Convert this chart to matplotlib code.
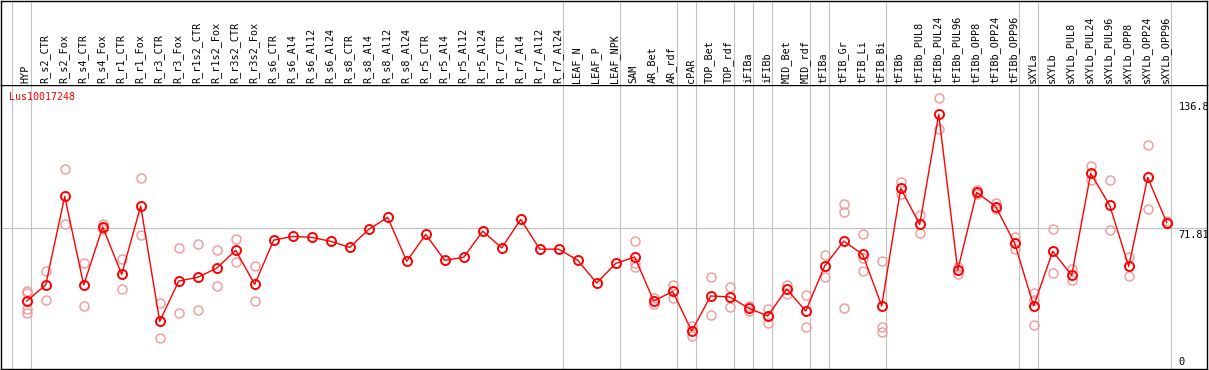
import matplotlib
matplotlib.use('Agg')
import matplotlib.pyplot as plt
import matplotlib.transforms as mtransforms

title = 'Lus10017248'

categories = [
    'HYP', 'R_s2_CTR', 'R_s2_Fox', 'R_s4_CTR', 'R_s4_Fox', 'R_r1_CTR', 'R_r1_Fox',
    'R_r3_CTR', 'R_r3_Fox', 'R_r1s2_CTR', 'R_r1s2_Fox', 'R_r3s2_CTR', 'R_r3s2_Fox',
    'R_s6_CTR', 'R_s6_Al4', 'R_s6_Al12', 'R_s6_Al24', 'R_s8_CTR', 'R_s8_Al4',
    'R_s8_Al12', 'R_s8_Al24', 'R_r5_CTR', 'R_r5_Al4', 'R_r5_Al12', 'R_r5_Al24',
    'R_r7_CTR', 'R_r7_Al4', 'R_r7_Al12', 'R_r7_Al24', 'LEAF_N', 'LEAF_P', 'LEAF_NPK',
    'SAM', 'AR_Bet', 'AR_rdf', 'cPAR', 'TOP_Bet', 'TOP_rdf', 'iFIBa', 'iFIBb',
    'MID_Bet', 'MID_rdf', 'tFIBa', 'tFIB_Gr', 'tFIB_Li', 'tFIB_Bi', 'tFIBb',
    'tFIBb_PUL8', 'tFIBb_PUL24', 'tFIBb_PUL96', 'tFIBb_OPP8', 'tFIBb_OPP24',
    'tFIBb_OPP96', 'sXYLa', 'sXYLb', 'sXYLb_PUL8', 'sXYLb_PUL24', 'sXYLb_PUL96',
    'sXYLb_OPP8', 'sXYLb_OPP24', 'sXYLb_OPP96',
]

means = [
    34.7, 42.9, 88.1, 42.9, 72.5, 48.3, 83.2, 24.3, 44.9, 46.8, 51.5, 60.6, 43.2,
    65.8, 67.7, 67.2, 65.2, 62.1, 71.3, 77.4, 55.0, 68.7, 55.5, 57.0, 70.4,
    61.8, 76.4, 61.2, 61.2, 55.5, 43.9, 53.9,
    57.2, 34.7, 39.6, 19.4, 37.3, 36.8, 31.0, 27.1, 40.8, 29.6, 52.6, 65.3,
    58.5, 32.2, 92.2, 73.8, 130.0, 50.4, 90.2, 82.9, 64.1, 32.2, 60.1, 47.8,
    99.9, 83.5, 52.4, 97.8, 74.7,
]

replicates = [
    [39.8, 38.6, 30.6, 28.7], [50.2, 35.2], [102.1, 74.0], [54.1, 32.2],
    [73.8, 71.5], [56.1, 40.8], [97.3, 68.2], [33.5, 15.7], [61.8, 28.4],
    [63.8, 29.9], [60.7, 42.4], [66.4, 54.6], [52.4, 34.5],
    [], [], [], [], [], [], [], [], [], [], [], [], [], [], [], [], [], [], [],
    [65.3, 54.0, 52.3], [36.1, 33.2], [42.9, 36.1], [21.8, 16.7], [46.8, 27.6],
    [41.9, 31.5], [32.3, 29.6], [30.6, 23.3], [42.9, 38.3], [37.8, 21.3],
    [58.2, 46.8], [84.2, 80.0, 31.0], [68.8, 56.9, 50.0], [55.0, 21.3, 18.7],
    [95.3, 89.3], [78.6, 69.3], [138.2, 122.3], [52.1, 48.7], [91.6, 89.3],
    [84.6, 81.7], [67.2, 61.1], [38.6, 35.0, 22.5], [71.3, 48.8], [50.9, 45.3],
    [103.6, 96.5], [96.3, 70.8], [57.2, 47.3], [114.2, 81.5], [75.4, 74.3],
]

group_starts = [0, 1, 29, 32, 35, 36, 38, 39, 40, 42, 43, 46, 53, 54, 61]
y_marks = [136.8, 71.81, 0]

W, H = 1209, 370
fig = plt.figure(figsize=(W / 100, H / 100), dpi=100)
ax = fig.add_axes([1 / W, 1 / H, 1206 / W, 284 / H])
hd = fig.add_axes([1 / W, 285 / H, 1206 / W, 84.5 / H])

xlim = (-1.353, 62.12)
grey = '#c0c0c0'

for a in (ax, hd):
    a.set_xlim(*xlim)
    a.set_xticks([])
    a.set_yticks([])
    for g in group_starts:
        a.axvline(g - 0.79, color=grey, lw=0.8, zorder=0)
    for s in a.spines.values():
        s.set_color('black')
        s.set_linewidth(1.0)
hd.spines['bottom'].set_visible(False)
hd.set_ylim(0, 1)

ax.set_ylim(0, 145)
ax.axhline(71.81, color=grey, lw=0.8, zorder=0)

xs = list(range(len(categories)))
for i, r in enumerate(replicates):
    if r:
        ax.plot([i] * len(r), r, 'o', mfc='none', mec='#f09898', ms=6.5, mew=1.0, zorder=2)
ax.plot(xs, means, '-', color='red', lw=1.0, zorder=3)
ax.plot(xs, means, 'o', mfc='none', mec='red', ms=6.5, mew=1.4, zorder=4)

for i, lab in enumerate(categories):
    hd.text(i - 0.05, 0.02, lab, rotation=90, ha='center', va='bottom',
            fontsize=7.3, family='DejaVu Sans Mono')

ax.text(-0.93, 138.7, title, color='red', fontsize=7.2, family='DejaVu Sans Mono',
        ha='left', va='center')

trans = mtransforms.blended_transform_factory(ax.transAxes, ax.transData)
for v in y_marks:
    lab = ('%g' % v)
    if v == 0:
        ax.text(0.9765, 2.0, lab, transform=trans, ha='left', va='baseline',
                fontsize=7.4, family='DejaVu Sans Mono', clip_on=True)
    else:
        ax.text(0.9765, v - 0.6, lab, transform=trans, ha='left', va='top',
                fontsize=7.4, family='DejaVu Sans Mono', clip_on=True)

fig.savefig('out.png', dpi=100)
